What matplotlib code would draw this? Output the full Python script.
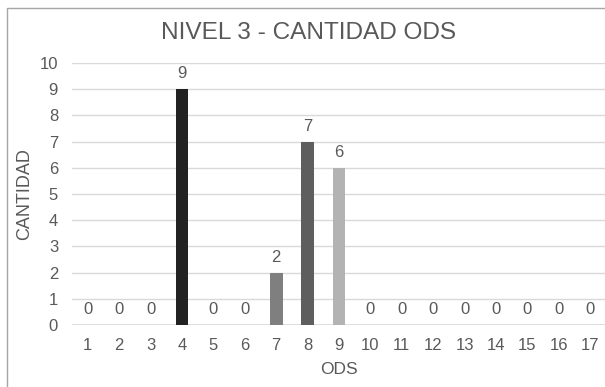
import matplotlib.pyplot as plt
import matplotlib.patches as mpatches

plt.rcParams['font.family'] = ['Liberation Sans', 'DejaVu Sans']

# Data
ods = [str(i) for i in range(1, 18)]
cantidad = [0, 0, 0, 9, 0, 0, 2, 7, 6, 0, 0, 0, 0, 0, 0, 0, 0]
colores = ['#222222'] * 17
colores[6] = '#7f7f7f'
colores[7] = '#5e5e5e'
colores[8] = '#b3b3b3'

text_col = '#595959'

fig = plt.figure(figsize=(6.05, 3.87), dpi=100)
ax = fig.add_axes([72 / 605, 62 / 387, 534 / 605, 262 / 387])

x = list(range(len(ods)))
bars = ax.bar(x, cantidad, width=0.41, color=colores, zorder=3)
for xi, v in zip(x, cantidad):
    ax.text(xi, v + 0.3, str(v), ha='center', va='bottom',
            fontsize=12, color=text_col, zorder=4)

ax.set_xlim(-0.5, len(ods) - 0.5)
ax.set_ylim(0, 10)
ax.set_yticks(range(0, 11))
ax.set_xticks(x)
ax.set_xticklabels(ods)
ax.tick_params(axis='both', length=0, labelsize=12, colors=text_col)
ax.tick_params(axis='x', pad=9)
ax.tick_params(axis='y', pad=10)
ax.grid(axis='y', color='#d9d9d9', linewidth=1, zorder=0)
for s in ax.spines.values():
    s.set_visible(False)
ax.axhline(0, color='#d9d9d9', linewidth=1.2, zorder=2)

ax.set_xlabel('ODS', fontsize=12.5, color=text_col, labelpad=7)
ax.set_ylabel('CANTIDAD', fontsize=13, color=text_col, labelpad=5)
fig.text(0.51, 0.915, 'NIVEL 3 - CANTIDAD ODS', ha='center', va='center',
         fontsize=17.6, color=text_col)

# chart frame
fig.patches.append(mpatches.Rectangle((7 / 605, -0.1), 1.2, 0.1 + (387 - 8) / 387,
                                      transform=fig.transFigure, fill=False,
                                      edgecolor='#a6a6a6', linewidth=1))

fig.savefig('out.png', dpi=100)
